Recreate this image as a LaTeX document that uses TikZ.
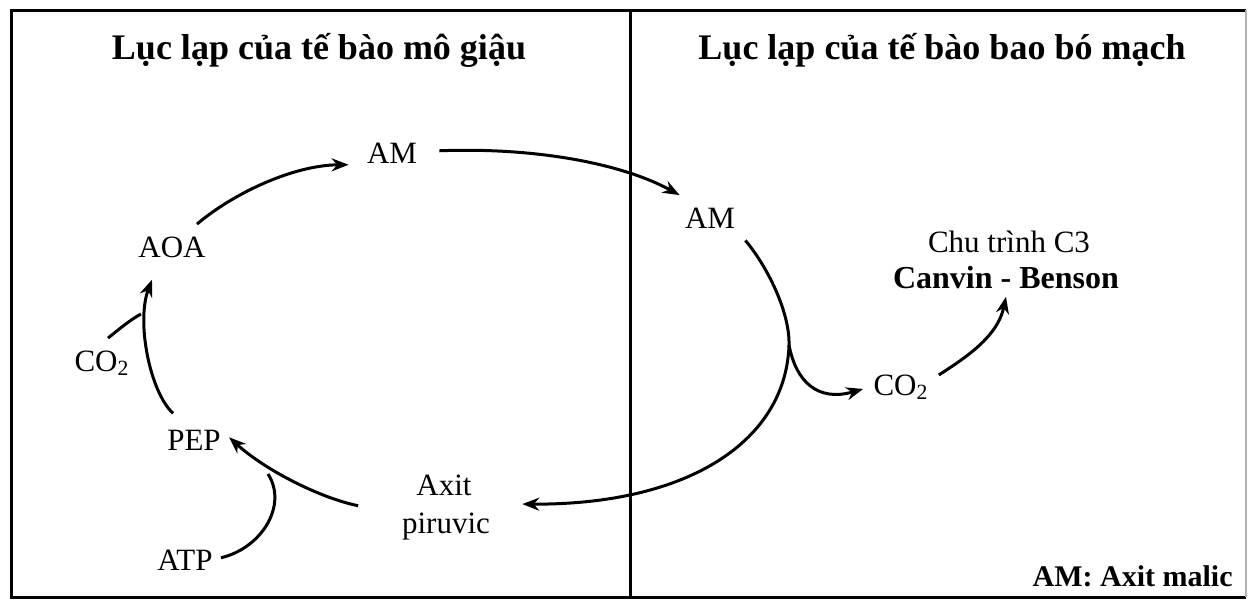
\documentclass[tikz,border=0pt]{standalone}
\usepackage{fontspec}
\setmainfont{Liberation Serif}
\usetikzlibrary{arrows.meta,calc}
\begin{document}
\begin{tikzpicture}[x=0.5pt,y=-0.5pt,
  lbl/.style={inner sep=0pt,anchor=base,font=\fontsize{15.5}{19}\selectfont},
  ttl/.style={inner sep=0pt,anchor=base,font=\fontsize{18}{22}\selectfont\bfseries},
  arr/.style={line width=1.5pt,-{Stealth[length=8.5pt,width=6.5pt]}},
  ln/.style={line width=1.5pt},
  frame/.style={line width=1.5pt}]
\useasboundingbox (0,0) rectangle (1250,600);
% frame
\draw[frame] (1246,10) -- (11,10) -- (11,597) -- (1246,597);
\draw[gray!60,line width=0.6pt] (1246,10) -- (1246,597);
\draw[frame] (630,10) -- (630,597);
% titles
\node[ttl] (t1) at (319,59) {Lục lạp của tế bào mô giậu};
\node[ttl] (t2) at (942,59) {Lục lạp của tế bào bao bó mạch};
% labels
\node[lbl] (am1) at (392,163) {AM};
\node[lbl] (aoa) at (172,257) {AOA};
\node[lbl] (co2a) at (102,371) {CO\textsubscript{2}};
\node[lbl] (pep) at (194,450) {PEP};
\node[lbl] (atp) at (185,570) {ATP};
\node[lbl] (axit) at (444,495) {Axit};
\node[lbl] (piru) at (446,533) {piruvic};
\node[lbl] (am2) at (710,228) {AM};
\node[lbl] (c3) at (1009,252) {Chu trình C3};
\node[lbl,font=\fontsize{16}{19}\selectfont\bfseries] (cb) at (1006,288) {Canvin - Benson};
\node[lbl] (co2b) at (901,395) {CO\textsubscript{2}};
\node[lbl,anchor=base east,font=\fontsize{15}{18}\selectfont\bfseries] (leg) at (1233,586) {AM: Axit malic};
% junction coordinates on the arcs
\coordinate (jb) at (789,345);
\coordinate (jp) at (268,474);
\coordinate (ja) at (141,314);
% arrows
\draw[arr] ($(aoa.north)+(25,-12)$) .. controls (235,192) and (295,165) .. ($(am1.west)+(-18,12)$);
\draw[arr] ($(am1.east)+(22,-2)$) .. controls (540,147) and (625,165) .. ($(am2.north west)+(-5,-12)$);
\draw[ln] ($(am2.south east)+(10,12)$) .. controls (770,270) and (790,315) .. (jb);
\draw[arr] (jb) .. controls (786,440) and (690,505) .. ($(piru.north east)+(32,-8)$);
\draw[arr] (jb) .. controls (796,382) and (818,402) .. ($(co2b.west)+(-10,2)$);
\draw[arr] ($(co2b.east)+(10,-12)$) .. controls (970,355) and (998,335) .. ($(cb.south)+(0,8)$);
\draw[arr] ($(axit.south west)+(-58,10)$) .. controls (320,498) and (265,470) .. ($(pep.north east)+(8,8)$);
\draw[ln] ($(atp.east)+(8,-2)$) .. controls (262,548) and (288,505) .. (jp);
\draw[arr] ($(pep.north)+(-21,-16)$) .. controls (150,392) and (136,322) .. ($(aoa.south)+(-20,22)$);
\draw[ln] ($(co2a.north)+(6,-12)$) .. controls (118,330) and (130,320) .. (ja);
\end{tikzpicture}
\end{document}
